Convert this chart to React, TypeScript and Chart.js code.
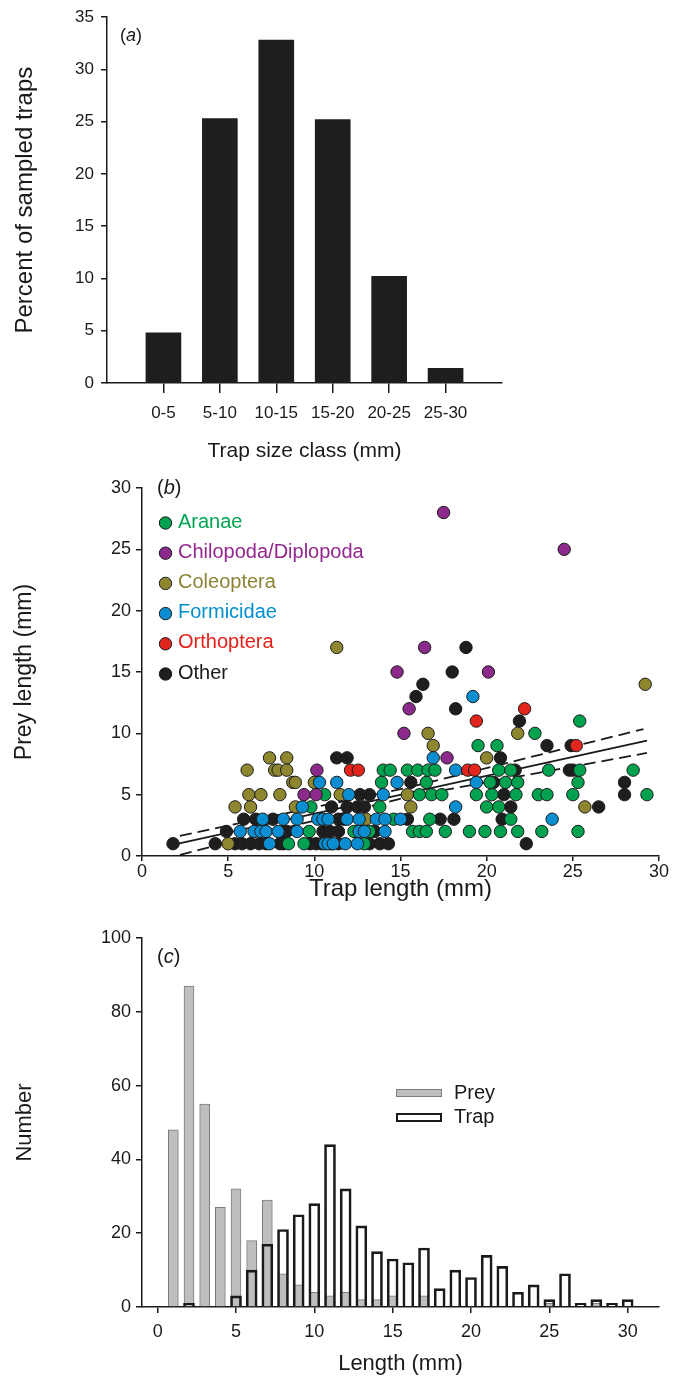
import React, { useEffect, useRef } from 'react';
import { Chart, registerables } from 'chart.js';

Chart.register(...registerables);

const FONT = "'Liberation Sans', Arial, Helvetica, sans-serif";
const INK = '#1a1a1a';

// ---------- Panel (a) ----------
const sizeClasses = ['0-5', '5-10', '10-15', '15-20', '20-25', '25-30'];
const percentTraps = [4.8, 25.3, 32.8, 25.2, 10.2, 1.4];
const aTicksY = [0, 5, 10, 15, 20, 25, 30, 35];
const aTicksX = [1, 2, 3, 4, 5, 6];

// ---------- Panel (b) ----------
type P = [number, number];
const aranae: P[] = [
  [8.5, 1], [9.4, 1], [11.0, 1], [12.9, 1],
  [9.7, 2], [12.3, 2], [13.2, 2], [15.7, 2], [16.1, 2], [16.5, 2], [17.6, 2], [19.0, 2], [19.9, 2], [20.8, 2], [21.8, 2], [23.2, 2], [25.3, 2],
  [14.6, 3], [16.7, 3], [21.4, 3],
  [9.8, 4], [13.8, 4], [20.0, 4], [20.7, 4],
  [10.6, 5], [16.1, 5], [16.8, 5], [17.4, 5], [19.4, 5], [20.3, 5], [21.7, 5], [23.0, 5], [23.5, 5], [25.0, 5], [29.3, 5],
  [13.9, 6], [16.5, 6], [20.2, 6], [21.1, 6], [21.8, 6], [25.3, 6],
  [14.0, 7], [14.4, 7], [15.4, 7], [16.0, 7], [16.6, 7], [17.0, 7], [20.7, 7], [21.4, 7], [23.6, 7], [25.4, 7], [28.5, 7],
  [19.5, 9], [20.6, 9], [22.8, 10], [25.4, 11],
];
const chilopoda: P[] = [
  [17.5, 28], [24.5, 25], [16.4, 17], [14.8, 15], [20.1, 15], [15.5, 12], [15.2, 10], [17.7, 8], [10.15, 7], [9.4, 5], [10.1, 5],
];
const coleoptera: P[] = [
  [11.3, 17], [29.2, 14], [16.6, 10], [21.8, 10], [16.9, 9], [20.0, 8], [7.4, 8], [8.4, 8],
  [6.1, 7], [7.7, 7], [7.9, 7], [8.4, 7], [8.75, 6], [8.9, 6], [10.0, 6],
  [6.2, 5], [6.9, 5], [8.0, 5], [11.5, 5], [15.4, 5], [5.4, 4], [6.3, 4], [8.9, 4], [15.6, 4], [25.7, 4],
  [13.0, 3], [5.0, 1],
];
const formicidae: P[] = [
  [19.2, 13], [16.9, 8], [18.2, 7], [10.3, 6], [11.3, 6], [14.8, 6], [19.4, 6], [12.0, 5], [14.0, 5], [9.3, 4], [18.2, 4],
  [7.0, 3], [8.2, 3], [9.0, 3], [10.2, 3], [10.5, 3], [10.8, 3], [11.9, 3], [12.6, 3], [13.6, 3], [14.1, 3], [15.0, 3], [23.8, 3],
  [5.7, 2], [6.5, 2], [6.9, 2], [7.2, 2], [7.9, 2], [9.0, 2], [12.6, 2], [12.9, 2], [14.1, 2],
  [7.4, 1], [10.6, 1], [10.8, 1], [11.1, 1], [11.8, 1], [12.5, 1],
];
const orthoptera: P[] = [
  [22.2, 12], [19.4, 11], [25.2, 9], [12.1, 7], [12.55, 7], [18.9, 7], [19.3, 7],
];
const other: P[] = [
  [18.8, 17], [18.0, 15], [16.3, 14], [15.9, 13], [18.2, 12], [21.9, 11], [23.5, 9], [24.9, 9], [11.3, 8], [11.9, 8], [20.8, 8],
  [21.65, 7], [24.8, 7], [25.0, 7], [15.6, 6], [20.4, 6], [28.0, 6], [12.65, 5], [13.2, 5], [21.0, 5], [28.0, 5],
  [11.0, 4], [11.9, 4], [12.5, 4], [12.9, 4], [21.4, 4], [26.5, 4],
  [5.9, 3], [6.6, 3], [7.6, 3], [11.4, 3], [11.7, 3], [15.4, 3], [17.3, 3], [18.1, 3], [20.9, 3],
  [4.9, 2], [8.2, 2], [8.4, 2], [10.5, 2], [10.9, 2], [11.4, 2], [13.5, 2],
  [1.8, 1], [4.25, 1], [5.4, 1], [5.8, 1], [6.3, 1], [6.8, 1], [7.2, 1], [8.0, 1], [8.2, 1], [9.75, 1], [10.1, 1], [10.4, 1],
  [11.4, 1], [13.2, 1], [13.8, 1], [14.3, 1], [22.3, 1],
];
const fitLine: P[] = [[2.1, 1.0], [29.3, 9.4]];
const upperBand: P[] = [[2.2, 1.65], [15.5, 5.6], [29.1, 10.35]];
const lowerBand: P[] = [[2.2, 0.1], [15.5, 4.85], [29.3, 8.4]];
const bTicks = [0, 5, 10, 15, 20, 25, 30];

const groups = [
  { name: 'Aranae', pts: aranae, color: '#00a24f', text: '#00a651', order: 4 },
  { name: 'Chilopoda/Diplopoda', pts: chilopoda, color: '#8b2a8a', text: '#93278f', order: 2 },
  { name: 'Coleoptera', pts: coleoptera, color: '#8e872f', text: '#8c8435', order: 5 },
  { name: 'Formicidae', pts: formicidae, color: '#0b8ed1', text: '#0090d0', order: 3 },
  { name: 'Orthoptera', pts: orthoptera, color: '#e2261d', text: '#e32119', order: 1 },
  { name: 'Other', pts: other, color: '#1e1e1e', text: '#1a1a1a', order: 6 },
];

// ---------- Panel (c) ----------
const lengthBins = [1, 2, 3, 4, 5, 6, 7, 8, 9, 10, 11, 12, 13, 14, 15, 16, 17, 18, 19, 20, 21, 22, 23, 24, 25, 26, 27, 28, 29, 30];
const preyCounts = [48, 87, 55, 27, 32, 18, 29, 9, 6, 4, 3, 4, 2, 2, 3, 0, 3, 0, 0, 0, 0, 0, 0, 0, 1, 0, 0, 1, 0, 0];
const trapCounts = [0, 1, 0, 0, 3, 10, 17, 21, 25, 28, 44, 32, 22, 15, 13, 12, 16, 5, 10, 8, 14, 11, 4, 6, 2, 9, 1, 2, 1, 2];
const cTicksX = [0, 5, 10, 15, 20, 25, 30];
const cTicksY = [0, 20, 40, 60, 80, 100];

// ---------- helpers ----------
const font = (size: number) => ({ family: FONT, size, lineHeight: 1.2 });

const fixTicks = (values: number[]) => (scale: any) => {
  scale.ticks = values.map((v) => ({ value: v }));
};

const axisBase = (tickLength: number, padding: number, size = 18) => ({
  ticks: { font: font(size), color: INK, padding, maxRotation: 0, autoSkip: false },
  grid: { drawOnChartArea: false, drawTicks: true, offset: false, tickLength, color: INK, lineWidth: 1.5 },
  border: { display: true, color: INK, width: 1.5 },
});

const panelLabel = (letter: string, dx: number, dy: number, size = 20) => ({
  id: 'panelLabel' + letter,
  afterDraw(chart: any) {
    const { ctx, chartArea } = chart;
    ctx.save();
    ctx.fillStyle = INK;
    ctx.textBaseline = 'middle';
    ctx.textAlign = 'left';
    let x = chartArea.left + dx;
    const y = chartArea.top + dy;
    ctx.font = `${size}px ${FONT}`;
    ctx.fillText('(', x, y);
    x += ctx.measureText('(').width;
    ctx.font = `italic ${size}px ${FONT}`;
    ctx.fillText(letter, x, y);
    x += ctx.measureText(letter).width;
    ctx.font = `${size}px ${FONT}`;
    ctx.fillText(')', x, y);
    ctx.restore();
  },
});

const scatterLegend = {
  id: 'scatterLegend',
  afterDraw(chart: any) {
    const { ctx, chartArea } = chart;
    ctx.save();
    groups.forEach((g, i) => {
      const cy = chartArea.top + 35 + i * 30.2;
      const cx = chartArea.left + 23.5;
      ctx.beginPath();
      ctx.arc(cx, cy, 6.2, 0, Math.PI * 2);
      ctx.fillStyle = g.color;
      ctx.fill();
      ctx.lineWidth = 1;
      ctx.strokeStyle = INK;
      ctx.stroke();
      ctx.font = `20px ${FONT}`;
      ctx.fillStyle = g.text;
      ctx.textBaseline = 'middle';
      ctx.textAlign = 'left';
      ctx.fillText(g.name, chartArea.left + 36, cy - 1);
    });
    ctx.restore();
  },
};

const histLegend = {
  id: 'histLegend',
  afterDraw(chart: any) {
    const { ctx, chartArea } = chart;
    ctx.save();
    const x = chartArea.left + 254;
    const y1 = chartArea.top + 151;
    ctx.fillStyle = '#bebebe';
    ctx.fillRect(x, y1, 46, 8);
    ctx.strokeStyle = '#7d7d7d';
    ctx.lineWidth = 1;
    ctx.strokeRect(x + 0.5, y1 + 0.5, 45, 7);
    const y2 = chartArea.top + 175;
    ctx.fillStyle = '#ffffff';
    ctx.fillRect(x, y2, 46, 9);
    ctx.strokeStyle = INK;
    ctx.lineWidth = 2;
    ctx.strokeRect(x + 1, y2 + 1, 44, 7);
    ctx.font = `20px ${FONT}`;
    ctx.fillStyle = INK;
    ctx.textBaseline = 'middle';
    ctx.textAlign = 'left';
    ctx.fillText('Prey', x + 58, y1 + 4);
    ctx.fillText('Trap', x + 58, y2 + 4);
    ctx.restore();
  },
};

const configA = (): any => ({
  type: 'bar',
  data: {
    datasets: [
      {
        data: percentTraps.map((v, i) => ({ x: aTicksX[i], y: v })),
        backgroundColor: '#1e1e1e',
        borderWidth: 0,
        barThickness: 35,
      },
    ],
  },
  options: {
    responsive: false,
    animation: false,
    events: [],
    layout: { padding: { left: 0, top: 14, right: 183, bottom: 0 } },
    plugins: { legend: { display: false }, tooltip: { enabled: false } },
    scales: {
      x: {
        type: 'linear',
        min: 0,
        max: 7,
        offset: false,
        afterBuildTicks: fixTicks(aTicksX),
        afterFit: (s: any) => { s.height = 87; },
        ...axisBase(10, 10, 17),
        ticks: {
          ...axisBase(10, 10, 17).ticks,
          callback: (v: number) => sizeClasses[aTicksX.indexOf(v)] ?? '',
        },
        title: { display: true, text: 'Trap size class (mm)', font: font(21), color: INK, padding: { top: 0, bottom: 6 } },
      },
      y: {
        min: 0,
        max: 35,
        afterBuildTicks: fixTicks(aTicksY),
        afterFit: (s: any) => { s.width = 107; },
        ...axisBase(6, 7, 17),
        title: { display: true, text: 'Percent of sampled traps', font: font(24), color: INK, padding: { top: 11, bottom: 0 } },
      },
    },
  },
  plugins: [panelLabel('a', 13, 19, 18)],
});

const configB = (): any => ({
  type: 'scatter',
  data: {
    datasets: [
      ...groups.map((g) => ({
        type: 'scatter',
        label: g.name,
        data: g.pts.map(([x, y]) => ({ x, y })),
        backgroundColor: g.color,
        borderColor: INK,
        borderWidth: 1,
        pointRadius: 6.2,
        order: g.order,
      })),
      {
        type: 'line',
        data: fitLine.map(([x, y]) => ({ x, y })),
        borderColor: INK,
        borderWidth: 1.8,
        pointRadius: 0,
        fill: false,
        order: 10,
      },
      {
        type: 'line',
        data: upperBand.map(([x, y]) => ({ x, y })),
        borderColor: INK,
        borderWidth: 1.8,
        borderDash: [12, 6],
        pointRadius: 0,
        fill: false,
        order: 10,
      },
      {
        type: 'line',
        data: lowerBand.map(([x, y]) => ({ x, y })),
        borderColor: INK,
        borderWidth: 1.8,
        borderDash: [12, 6],
        pointRadius: 0,
        fill: false,
        order: 10,
      },
    ],
  },
  options: {
    responsive: false,
    animation: false,
    events: [],
    layout: { padding: { left: 0, top: 18, right: 26, bottom: 0 } },
    plugins: { legend: { display: false }, tooltip: { enabled: false } },
    scales: {
      x: {
        type: 'linear',
        min: 0,
        max: 30,
        afterBuildTicks: fixTicks(bTicks),
        afterFit: (s: any) => { s.height = 49; },
        ...axisBase(5, 0),
        title: { display: true, text: 'Trap length (mm)', font: font(24), color: INK, padding: { top: 0, bottom: 1 } },
      },
      y: {
        type: 'linear',
        min: 0,
        max: 30,
        afterBuildTicks: fixTicks(bTicks),
        afterFit: (s: any) => { s.width = 142; },
        ...axisBase(6, 5),
        title: { display: true, text: 'Prey length (mm)', font: font(23), color: INK, padding: { top: 11, bottom: 0 } },
      },
    },
  },
  plugins: [panelLabel('b', 15, 0), scatterLegend],
});

const configC = (): any => ({
  type: 'bar',
  data: {
    datasets: [
      {
        label: 'Prey',
        data: lengthBins.map((b, i) => ({ x: b, y: preyCounts[i] })),
        backgroundColor: '#bebebe',
        borderColor: '#7d7d7d',
        borderWidth: 1,
        barThickness: 10,
        grouped: false,
        order: 2,
      },
      {
        label: 'Trap',
        data: lengthBins.map((b, i) => ({ x: b, y: trapCounts[i] })),
        backgroundColor: 'rgba(0,0,0,0)',
        borderColor: INK,
        borderWidth: 2,
        barThickness: 11,
        grouped: false,
        order: 1,
      },
    ],
  },
  options: {
    responsive: false,
    animation: false,
    events: [],
    layout: { padding: { left: 0, top: 33, right: 26, bottom: 0 } },
    plugins: { legend: { display: false }, tooltip: { enabled: false } },
    scales: {
      x: {
        type: 'linear',
        min: -1,
        max: 32,
        offset: false,
        afterBuildTicks: fixTicks(cTicksX),
        afterFit: (s: any) => { s.height = 70; },
        ...axisBase(6, 8),
        title: { display: true, text: 'Length (mm)', font: font(22), color: INK, padding: { top: 0, bottom: 0 } },
      },
      y: {
        min: 0,
        max: 100,
        afterBuildTicks: fixTicks(cTicksY),
        afterFit: (s: any) => { s.width = 142; },
        ...axisBase(6, 5),
        title: { display: true, text: 'Number', font: font(22), color: INK, padding: { top: 12, bottom: 0 } },
      },
    },
  },
  plugins: [panelLabel('c', 15, 19), histLegend],
});

function Panel({ make, top, height }: { make: () => any; top: number; height: number }) {
  const ref = useRef<HTMLCanvasElement>(null);
  useEffect(() => {
    const chart = new Chart(ref.current as HTMLCanvasElement, make());
    return () => chart.destroy();
  }, [make]);
  return (
    <canvas
      ref={ref}
      width={685}
      height={height}
      style={{ position: 'absolute', left: 0, top, width: 685, height }}
    />
  );
}

export default function App() {
  return (
    <div style={{ position: 'absolute', left: 0, top: 0, width: 685, height: 1377, background: '#ffffff' }}>
      <Panel make={configA} top={0} height={470} />
      <Panel make={configB} top={470} height={435} />
      <Panel make={configC} top={905} height={472} />
    </div>
  );
}
